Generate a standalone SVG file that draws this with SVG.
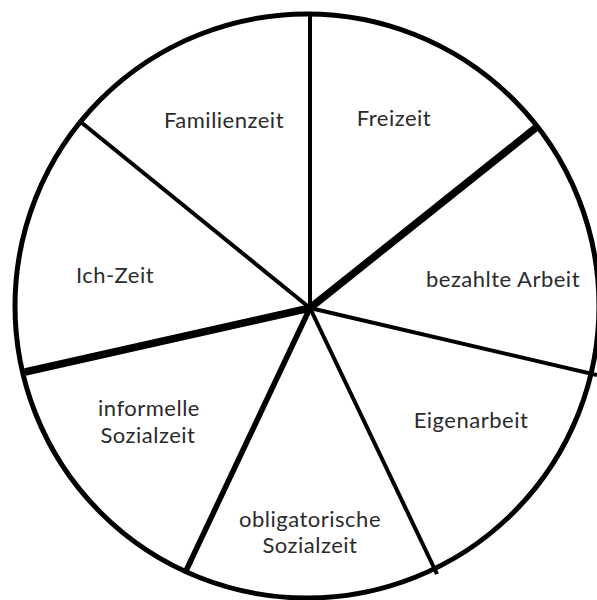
<svg xmlns="http://www.w3.org/2000/svg" width="597" height="600" viewBox="0 0 597 600">
  <style>
    .rim { fill: #ffffff; stroke: #000000; stroke-width: 5; }
    .spoke { stroke: #000000; stroke-linecap: butt; fill: none; }
    .thin { stroke-width: 4; }
    .mid { stroke-width: 5.5; }
    .thick { stroke-width: 7.5; }
    .label { font-family: Lato, "Open Sans", sans-serif; font-size: 22px; letter-spacing: 0.5px; fill: #2b2b2b; text-anchor: middle; }
  </style>
  <rect width="597" height="600" fill="#ffffff"/>
  <g id="wheel">
    <circle class="rim" cx="307" cy="306" r="292"/>
  </g>
  <g id="connectors">
    <line class="spoke thin" x1="310" y1="308" x2="310" y2="14"/>
    <line class="spoke thick" x1="310" y1="308" x2="538" y2="126"/>
    <line class="spoke thin" x1="310" y1="308" x2="597" y2="375"/>
    <line class="spoke thin" x1="310" y1="308" x2="437" y2="574"/>
    <line class="spoke mid" x1="310" y1="308" x2="185" y2="573"/>
    <line class="spoke thick" x1="310" y1="308" x2="25" y2="372"/>
    <line class="spoke thin" x1="310" y1="308" x2="82" y2="123"/>
  </g>
  <g id="familienzeit"><text class="label" x="224" y="128">Familienzeit</text></g>
  <g id="freizeit"><text class="label" x="394" y="126">Freizeit</text></g>
  <g id="ich-zeit"><text class="label" x="115" y="283">Ich-Zeit</text></g>
  <g id="bezahlte-arbeit"><text class="label" x="503" y="287">bezahlte Arbeit</text></g>
  <g id="informelle-sozialzeit">
    <text class="label" x="149" y="416">informelle</text>
    <text class="label" x="148" y="443">Sozialzeit</text>
  </g>
  <g id="eigenarbeit"><text class="label" x="471" y="428">Eigenarbeit</text></g>
  <g id="obligatorische-sozialzeit">
    <text class="label" x="310" y="527">obligatorische</text>
    <text class="label" x="310" y="553">Sozialzeit</text>
  </g>
</svg>
